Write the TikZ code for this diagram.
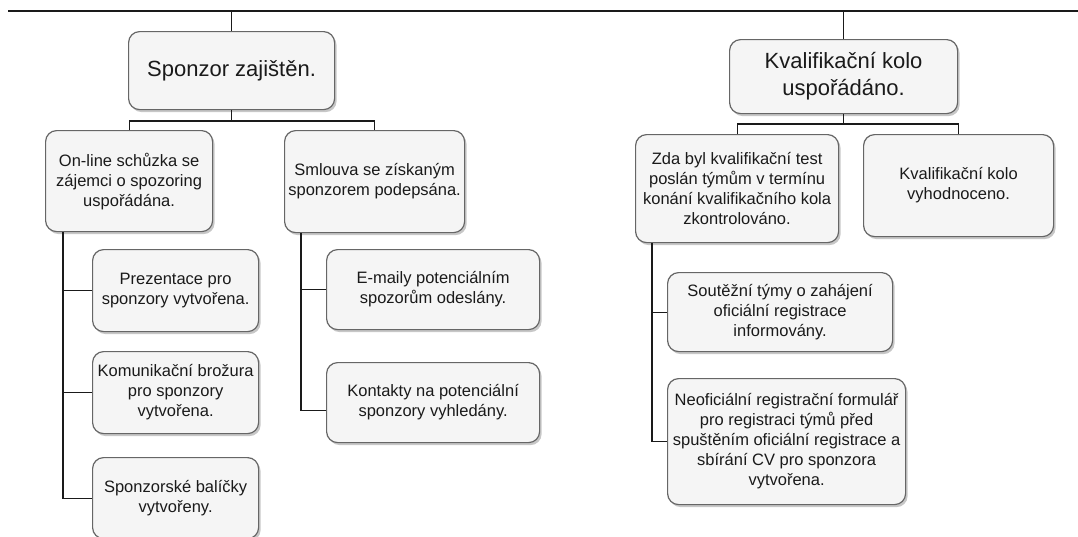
\documentclass[tikz,border=0pt]{standalone}
\usepackage{fontspec}
\setmainfont{Liberation Sans}
\usetikzlibrary{shadows}
\definecolor{boxfill}{HTML}{F5F5F5}
\definecolor{boxline}{HTML}{666666}
\definecolor{ink}{HTML}{1A1A1A}
\begin{document}
\begin{tikzpicture}[x=1pt,y=-1pt,
  box/.style={draw=boxline, fill=boxfill, line width=1.2pt, rounded corners=11pt,
    align=center, text=ink, inner sep=0pt, anchor=north west,
    drop shadow={shadow xshift=2pt, shadow yshift=-2.5pt, fill=black, opacity=0.22}},
  big/.style={font=\fontsize{22}{27}\selectfont},
  small/.style={font=\fontsize{16.5}{20}\selectfont},
  link/.style={draw=ink, line width=1.2pt}]
\useasboundingbox (0,0) rectangle (1078,536);

% top bus
\coordinate (tl) at (8,11);
\coordinate (tr) at (1078,11);
\draw[link] (tl) -- (tr);

% first level
\node[box, big, minimum width=206pt, minimum height=78pt] (s0) at (128,31) {Sponzor zajištěn.};
\node[box, big, minimum width=228pt, minimum height=74pt] (k0) at (729,39) {Kvalifikační kolo\\uspořádáno.};

% second level
\node[box, small, minimum width=167pt, minimum height=101pt] (a1) at (45,130) {On-line schůzka se\\zájemci o spozoring\\uspořádána.};
\node[box, small, minimum width=180pt, minimum height=102pt] (a2) at (284,130) {Smlouva se získaným\\sponzorem podepsána.};
\node[box, small, minimum width=203pt, minimum height=108pt] (b1) at (635,134) {Zda byl kvalifikační test\\poslán týmům v termínu\\konání kvalifikačního kola\\zkontrolováno.};
\node[box, small, minimum width=190pt, minimum height=102pt] (b2) at (863,134) {Kvalifikační kolo\\vyhodnoceno.};

% third level, left
\node[box, small, minimum width=166pt, minimum height=82pt] (a11) at (92,249) {Prezentace pro\\sponzory vytvořena.};
\node[box, small, minimum width=166pt, minimum height=82pt] (a12) at (92,351) {Komunikační brožura\\pro sponzory\\vytvořena.};
\node[box, small, minimum width=166pt, minimum height=81pt] (a13) at (92,457) {Sponzorské balíčky\\vytvořeny.};
\node[box, small, minimum width=213pt, minimum height=80pt] (a21) at (326,249) {E-maily potenciálním\\spozorům odeslány.};
\node[box, small, minimum width=213pt, minimum height=80pt] (a22) at (326,362) {Kontakty na potenciální\\sponzory vyhledány.};

% third level, right
\node[box, small, minimum width=225pt, minimum height=79pt] (b11) at (667,272) {Soutěžní týmy o zahájení\\oficiální registrace\\informovány.};
\node[box, small, minimum width=238pt, minimum height=126pt] (b12) at (667,378) {Neoficiální registrační formulář\\pro registraci týmů před\\spuštěním oficiální registrace a\\sbírání CV pro sponzora\\vytvořena.};

% links from the top bus
\draw[link] (s0.north) -- (s0.north |- tl);
\draw[link] (k0.north) -- (k0.north |- tl);

% first level to second level
\coordinate (sbus) at (0,121);
\coordinate (kbus) at (0,124);
\draw[link] (s0.south) -- (s0.south |- sbus);
\draw[link] (a1.north) -- (a1.north |- sbus) -| (a2.north);
\draw[link] (k0.south) -- (k0.south |- kbus);
\draw[link] (b1.north) -- (b1.north |- kbus) -| (b2.north);

% second level to third level
\coordinate (a1v) at ([xshift=18pt]a1.south west);
\draw[link] (a1v) |- (a13.west);
\draw[link] (a1v |- a11.west) -- (a11.west);
\draw[link] (a1v |- a12.west) -- (a12.west);

\coordinate (a2v) at ([xshift=17pt]a2.south west);
\draw[link] (a2v) |- ([yshift=-8pt]a22.west);
\draw[link] (a2v |- a21.west) -- (a21.west);

\coordinate (b1v) at ([xshift=17pt]b1.south west);
\draw[link] (b1v) |- (b12.west);
\draw[link] (b1v |- b11.west) -- (b11.west);
\end{tikzpicture}
\end{document}
